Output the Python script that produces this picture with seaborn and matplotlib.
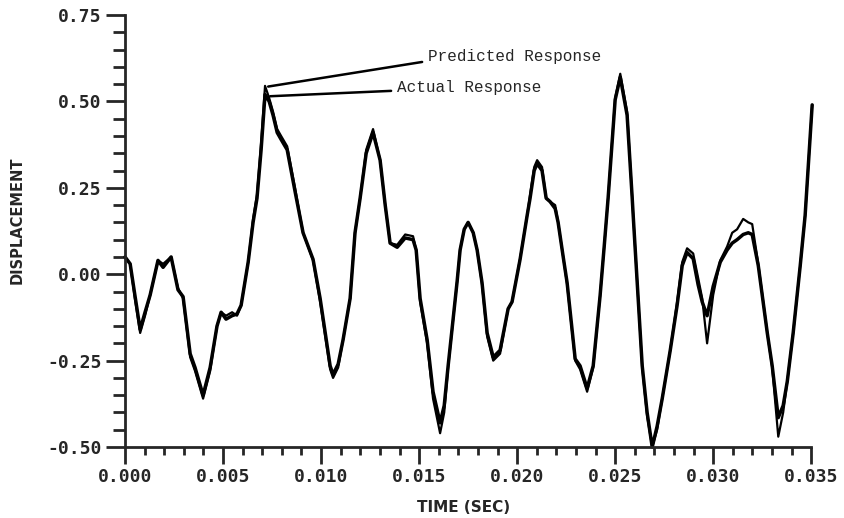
import numpy as np
import pandas as pd
import matplotlib
matplotlib.use("Agg")
import matplotlib.pyplot as plt
from matplotlib.ticker import MultipleLocator, FormatStrFormatter
import seaborn as sns

# time in milliseconds (converted to seconds below)
time_ms = [0.00, 0.26, 0.50, 0.77, 1.02, 1.28, 1.68, 1.94, 2.35, 2.70, 2.96, 3.32, 3.57, 3.98,
           4.34, 4.69, 4.90, 5.15, 5.46, 5.71, 5.92, 6.28, 6.53, 6.73, 6.94, 7.14, 7.35, 7.55,
           7.76, 7.96, 8.27, 8.47, 8.67, 9.08, 9.59, 9.95, 10.46, 10.61, 10.87, 11.12, 11.48,
           11.73, 11.99, 12.30, 12.65, 13.01, 13.27, 13.52, 13.88, 14.29, 14.69, 14.85, 15.05,
           15.41, 15.71, 16.07, 16.28, 16.48, 16.94, 17.09, 17.30, 17.50, 17.76, 17.96, 18.21,
           18.47, 18.78, 19.13, 19.54, 19.74, 20.15, 20.51, 20.66, 20.87, 21.02, 21.27, 21.48,
           21.68, 21.94, 22.09, 22.35, 22.55, 22.96, 23.21, 23.57, 23.88, 24.23, 24.44, 24.64,
           25.00, 25.26, 25.61, 25.87, 25.92, 26.12, 26.38, 26.63, 26.89, 27.14, 27.40, 27.81,
           28.16, 28.42, 28.67, 28.98, 29.23, 29.44, 29.69, 30.00, 30.36, 30.71, 30.97, 31.22,
           31.53, 31.79, 31.99, 32.30, 32.76, 33.01, 33.32, 33.57, 33.78, 34.08, 34.44, 34.69,
           35.05]

actual = [0.05, 0.03, -0.06, -0.16, -0.11, -0.06, 0.04, 0.02, 0.05, -0.045, -0.065, -0.23, -0.27, -0.35,
          -0.27, -0.15, -0.11, -0.13, -0.12, -0.115, -0.09, 0.035, 0.15, 0.22, 0.36, 0.52, 0.50, 0.46,
          0.41, 0.39, 0.36, 0.30, 0.24, 0.12, 0.043, -0.07, -0.265, -0.29, -0.26, -0.19, -0.07,
          0.12, 0.22, 0.35, 0.41, 0.33, 0.20, 0.09, 0.078, 0.105, 0.10, 0.07, -0.07,
          -0.19, -0.34, -0.43, -0.38, -0.265, -0.02, 0.07, 0.13, 0.15, 0.12, 0.07, -0.025,
          -0.17, -0.24, -0.22, -0.10, -0.08, 0.043, 0.17, 0.22, 0.30, 0.32, 0.30, 0.22,
          0.21, 0.19, 0.15, 0.05, -0.025, -0.245, -0.265, -0.33, -0.265, -0.063, 0.08, 0.22,
          0.505, 0.57, 0.46, 0.22, 0.17, -0.02, -0.265, -0.40, -0.50, -0.44, -0.36, -0.22,
          -0.09, 0.025, 0.063, 0.045, -0.03, -0.08, -0.12, -0.035, 0.035, 0.07, 0.09, 0.10,
          0.115, 0.12, 0.115, 0.025, -0.17, -0.265, -0.415, -0.38, -0.31, -0.17, 0.025, 0.17,
          0.49]

predicted = [0.05, 0.03, -0.07, -0.17, -0.12, -0.06, 0.04, 0.03, 0.05, -0.04, -0.07, -0.24, -0.28, -0.36,
             -0.28, -0.15, -0.11, -0.12, -0.11, -0.12, -0.09, 0.035, 0.16, 0.23, 0.38, 0.545, 0.51, 0.47,
             0.42, 0.40, 0.37, 0.31, 0.25, 0.12, 0.04, -0.08, -0.275, -0.30, -0.27, -0.19, -0.07,
             0.12, 0.22, 0.36, 0.42, 0.33, 0.20, 0.09, 0.085, 0.115, 0.11, 0.07, -0.08,
             -0.20, -0.36, -0.46, -0.40, -0.27, -0.02, 0.07, 0.13, 0.15, 0.12, 0.07, -0.03,
             -0.18, -0.25, -0.23, -0.10, -0.08, 0.045, 0.17, 0.23, 0.31, 0.33, 0.31, 0.22,
             0.21, 0.20, 0.15, 0.05, -0.03, -0.25, -0.275, -0.34, -0.27, -0.063, 0.08, 0.22,
             0.51, 0.58, 0.47, 0.22, 0.17, -0.02, -0.27, -0.41, -0.50, -0.45, -0.36, -0.22,
             -0.08, 0.035, 0.075, 0.06, -0.01, -0.07, -0.20, -0.06, 0.04, 0.08, 0.12, 0.13,
             0.16, 0.15, 0.145, 0.03, -0.17, -0.27, -0.47, -0.40, -0.31, -0.17, 0.025, 0.17,
             0.49]

time_s = [t / 1000.0 for t in time_ms]
df = pd.DataFrame({"time": time_s * 2,
                   "disp": actual + predicted,
                   "series": ["Actual"] * len(actual) + ["Predicted"] * len(predicted)})

sns.set_style("ticks")
plt.rcParams["axes.unicode_minus"] = False
plt.rcParams["font.family"] = ["DejaVu Sans Mono"]

fig = plt.figure(figsize=(8.45, 5.18), dpi=100)
ax = fig.add_axes([0.148, 0.137, 0.812, 0.834])

sns.lineplot(data=df[df.series == "Predicted"], x="time", y="disp", ax=ax,
             color="black", lw=1.6, sort=False, legend=False)
sns.lineplot(data=df[df.series == "Actual"], x="time", y="disp", ax=ax,
             color="black", lw=2.5, sort=False, legend=False)
for ln in ax.lines:
    ln.set_clip_on(False)
    ln.set_solid_joinstyle("round")

ax.set_xlim(0, 0.035)
ax.set_ylim(-0.5, 0.75)
ax.xaxis.set_major_locator(MultipleLocator(0.005))
ax.xaxis.set_minor_locator(MultipleLocator(0.001))
ax.yaxis.set_major_locator(MultipleLocator(0.25))
ax.yaxis.set_minor_locator(MultipleLocator(0.05))
ax.xaxis.set_major_formatter(FormatStrFormatter("%.3f"))
ax.yaxis.set_major_formatter(FormatStrFormatter("%.2f"))

sns.despine(ax=ax)
for s in ["left", "bottom"]:
    ax.spines[s].set_linewidth(2.0)

ax.tick_params(axis="x", which="major", length=12, width=2, direction="out", pad=3)
ax.tick_params(axis="x", which="minor", length=5.5, width=2, direction="out")
ax.tick_params(axis="y", which="major", length=14, width=2, direction="out", pad=3)
ax.tick_params(axis="y", which="minor", length=8.5, width=2, direction="out")
for lab in ax.get_xticklabels() + ax.get_yticklabels():
    lab.set_fontsize(13)
    lab.set_fontweight("bold")

ax.set_xlabel("TIME (SEC)", fontsize=11, fontweight="bold", family="DejaVu Sans")
ax.set_ylabel("DISPLACEMENT", fontsize=10.5, fontweight="bold", family="DejaVu Sans")
ax.xaxis.set_label_coords(0.493, -0.122)
ax.yaxis.set_label_coords(-0.146, 0.525)

ann_font = dict(family="Liberation Mono", fontsize=11.5, ha="left", va="center")
ax.annotate("Predicted Response", xy=(0.0073, 0.543), xytext=(0.01546, 0.630),
            arrowprops=dict(arrowstyle="-", lw=1.8, color="black", shrinkA=2, shrinkB=0,
                            relpos=(0, 0.2)), **ann_font)
ax.annotate("Actual Response", xy=(0.0074, 0.515), xytext=(0.01388, 0.540),
            arrowprops=dict(arrowstyle="-", lw=1.8, color="black", shrinkA=2, shrinkB=0,
                            relpos=(0, 0.3)), **ann_font)

fig.savefig("out.png", dpi=100, facecolor="white")
